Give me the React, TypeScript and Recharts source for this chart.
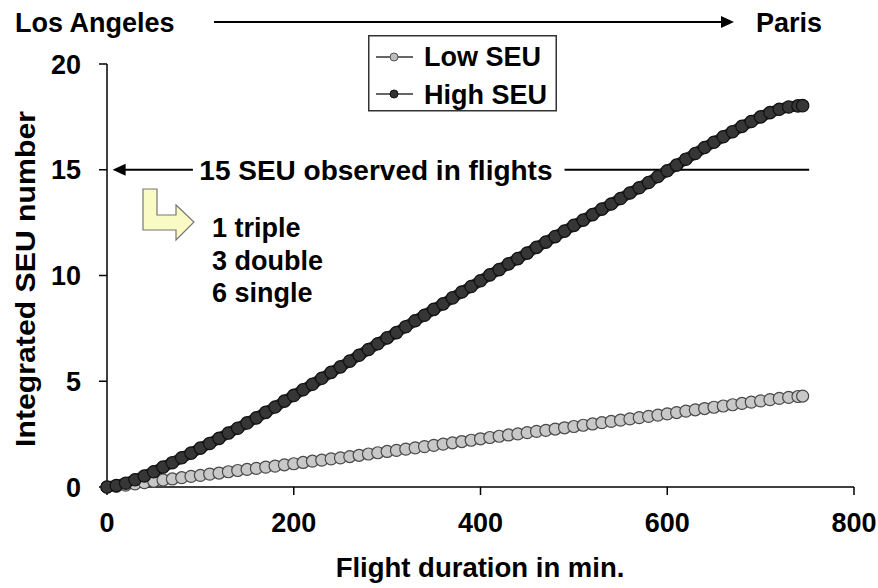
import React from 'react';
import { LineChart, Line, XAxis, YAxis, ReferenceLine, Legend } from 'recharts';

const minutes = [0, 10, 20, 30, 40, 50, 60, 70, 80, 90, 100, 110, 120, 130, 140, 150, 160, 170, 180, 190, 200, 210, 220, 230, 240, 250, 260, 270, 280, 290, 300, 310, 320, 330, 340, 350, 360, 370, 380, 390, 400, 410, 420, 430, 440, 450, 460, 470, 480, 490, 500, 510, 520, 530, 540, 550, 560, 570, 580, 590, 600, 610, 620, 630, 640, 650, 660, 670, 680, 690, 700, 710, 720, 730, 740, 745];

const highSEU = [0, 0.07, 0.18, 0.34, 0.52, 0.72, 0.94, 1.15, 1.38, 1.6, 1.84, 2.06, 2.3, 2.55, 2.78, 3.03, 3.27, 3.53, 3.78, 4.06, 4.33, 4.6, 4.86, 5.14, 5.42, 5.68, 5.95, 6.23, 6.5, 6.77, 7.05, 7.3, 7.58, 7.86, 8.12, 8.4, 8.66, 8.94, 9.22, 9.48, 9.75, 10.03, 10.28, 10.55, 10.8, 11.06, 11.33, 11.58, 11.84, 12.1, 12.37, 12.62, 12.88, 13.14, 13.38, 13.64, 13.9, 14.15, 14.4, 14.68, 14.95, 15.22, 15.5, 15.77, 16.05, 16.3, 16.56, 16.8, 17.05, 17.28, 17.5, 17.7, 17.86, 17.97, 18.02, 18.03];

const lowSEU = [0, 0.03, 0.09, 0.15, 0.21, 0.27, 0.33, 0.38, 0.44, 0.5, 0.55, 0.61, 0.66, 0.72, 0.78, 0.83, 0.88, 0.94, 0.99, 1.05, 1.1, 1.16, 1.22, 1.27, 1.33, 1.38, 1.44, 1.5, 1.56, 1.62, 1.68, 1.73, 1.79, 1.85, 1.91, 1.97, 2.03, 2.09, 2.15, 2.21, 2.28, 2.34, 2.4, 2.46, 2.51, 2.57, 2.63, 2.68, 2.74, 2.8, 2.86, 2.92, 2.98, 3.04, 3.1, 3.16, 3.22, 3.28, 3.34, 3.4, 3.46, 3.52, 3.59, 3.65, 3.71, 3.77, 3.83, 3.89, 3.95, 4.01, 4.07, 4.13, 4.19, 4.24, 4.28, 4.3];

const xTicks = [0, 200, 400, 600, 800];
const yTicks = [0, 5, 10, 15, 20];
const breakdown = ['1 triple', '3 double', '6 single'];

const data = minutes.map((m, i) => ({ m, low: lowSEU[i], high: highSEU[i] }));

const FONT = '"Liberation Sans", Arial, Helvetica, sans-serif';
const tickStyle = { fill: '#000', fontSize: 27, fontWeight: 'bold', fontFamily: FONT };

const LegendBox = () => (
  <svg width={190} height={77} style={{ display: 'block' }}>
    <rect x={0.75} y={0.75} width={187.5} height={75} fill="#fff" stroke="#333" strokeWidth={1.5} />
    <line x1={8} y1={22} x2={45} y2={22} stroke="#333" strokeWidth={1.5} />
    <circle cx={26} cy={22} r={4} fill="#bdbdbd" stroke="#555" strokeWidth={1} />
    <text x={56} y={31} fontSize={27} fontWeight="bold" fontFamily={FONT} fill="#000">Low SEU</text>
    <line x1={8} y1={59} x2={45} y2={59} stroke="#333" strokeWidth={1.5} />
    <circle cx={26} cy={59} r={4} fill="#333" stroke="#111" strokeWidth={1} />
    <text x={56} y={69} fontSize={27} fontWeight="bold" fontFamily={FONT} fill="#000">High SEU</text>
  </svg>
);

const ArrowLeftShape = (props: any) => {
  const { x1, y1, x2, y2 } = props;
  const tip = Math.min(x1, x2);
  const end = Math.max(x1, x2);
  return (
    <g>
      <line x1={tip + 8} y1={y1} x2={end} y2={y2} stroke="#000" strokeWidth={2} />
      <polygon points={`${tip},${y1} ${tip + 13},${y1 - 6} ${tip + 13},${y1 + 6}`} fill="#000" />
    </g>
  );
};

const PlainShape = (props: any) => {
  const { x1, y1, x2, y2 } = props;
  return <line x1={x1} y1={y1} x2={x2} y2={y2} stroke="#000" strokeWidth={2} />;
};

const TextShape = (props: any) => {
  const { x1, y1, x2 } = props;
  return (
    <text x={(x1 + x2) / 2} y={y1 + 10} textAnchor="middle" fontSize={28} fontWeight="bold" fontFamily={FONT} fill="#000">
      15 SEU observed in flights
    </text>
  );
};

export default function App() {
  return (
    <div style={{ position: 'absolute', left: 0, top: 0, width: 878, height: 588, background: '#fff' }}>
      <LineChart width={878} height={588} data={data} margin={{ top: 64, right: 24, left: 0, bottom: 0 }}>
        <XAxis
          type="number"
          dataKey="m"
          domain={[0, 800]}
          ticks={xTicks}
          tickSize={8}
          tickMargin={18}
          height={101}
          axisLine={{ stroke: '#000', strokeWidth: 1.5 }}
          tickLine={{ stroke: '#000', strokeWidth: 1.5 }}
          tick={tickStyle}
        />
        <YAxis
          type="number"
          domain={[0, 20]}
          ticks={yTicks}
          tickSize={8}
          tickMargin={18}
          width={107}
          axisLine={{ stroke: '#000', strokeWidth: 1.5 }}
          tickLine={{ stroke: '#000', strokeWidth: 1.5 }}
          tick={tickStyle}
        />
        <ReferenceLine segment={[{ x: 6, y: 15 }, { x: 92, y: 15 }]} shape={ArrowLeftShape} />
        <ReferenceLine segment={[{ x: 92, y: 15 }, { x: 484, y: 15 }]} shape={TextShape} />
        <ReferenceLine segment={[{ x: 490, y: 15 }, { x: 752, y: 15 }]} shape={PlainShape} />
        <Line
          type="linear"
          dataKey="low"
          name="Low SEU"
          stroke="#bdbdbd"
          strokeWidth={10}
          dot={{ r: 6, fill: '#c8c8c8', stroke: '#4a4a4a', strokeWidth: 1.2 }}
          isAnimationActive={false}
        />
        <Line
          type="linear"
          dataKey="high"
          name="High SEU"
          stroke="#2e2e2e"
          strokeWidth={11}
          dot={{ r: 6.2, fill: '#363636', stroke: '#111', strokeWidth: 1.2 }}
          isAnimationActive={false}
        />
        <Legend
          layout="horizontal"
          verticalAlign="middle"
          align="center"
          content={() => <LegendBox />}
          wrapperStyle={{ left: 368, top: 35, width: 190, height: 77 }}
        />
      </LineChart>
      <svg width={878} height={588} style={{ position: 'absolute', left: 0, top: 0, pointerEvents: 'none' }}>
        <text x={15} y={32} fontSize={27} fontWeight="bold" fontFamily={FONT} fill="#000">Los Angeles</text>
        <line x1={214} y1={22} x2={722} y2={22} stroke="#000" strokeWidth={2} />
        <polygon points="734,22 721,16 721,28" fill="#000" />
        <text x={756} y={32} fontSize={27} fontWeight="bold" fontFamily={FONT} fill="#000">Paris</text>
        <text
          transform="translate(35,279) rotate(-90) scale(1.12,1)"
          textAnchor="middle"
          fontSize={27}
          fontWeight="bold"
          fontFamily={FONT}
          fill="#000"
        >
          Integrated SEU number
        </text>
        <text x={480} y={577} textAnchor="middle" fontSize={27.5} fontWeight="bold" fontFamily={FONT} fill="#000">
          Flight duration in min.
        </text>
        <polygon
          points="143,189 157,189 157,215 176,215 176,205 194,222 176,240 176,230 143,230"
          fill="#fafac4"
          stroke="#777"
          strokeWidth={1.2}
        />
        {breakdown.map((t, i) => (
          <text key={t} x={212} y={237 + i * 32.5} fontSize={27} fontWeight="bold" fontFamily={FONT} fill="#000">
            {t}
          </text>
        ))}
      </svg>
    </div>
  );
}
